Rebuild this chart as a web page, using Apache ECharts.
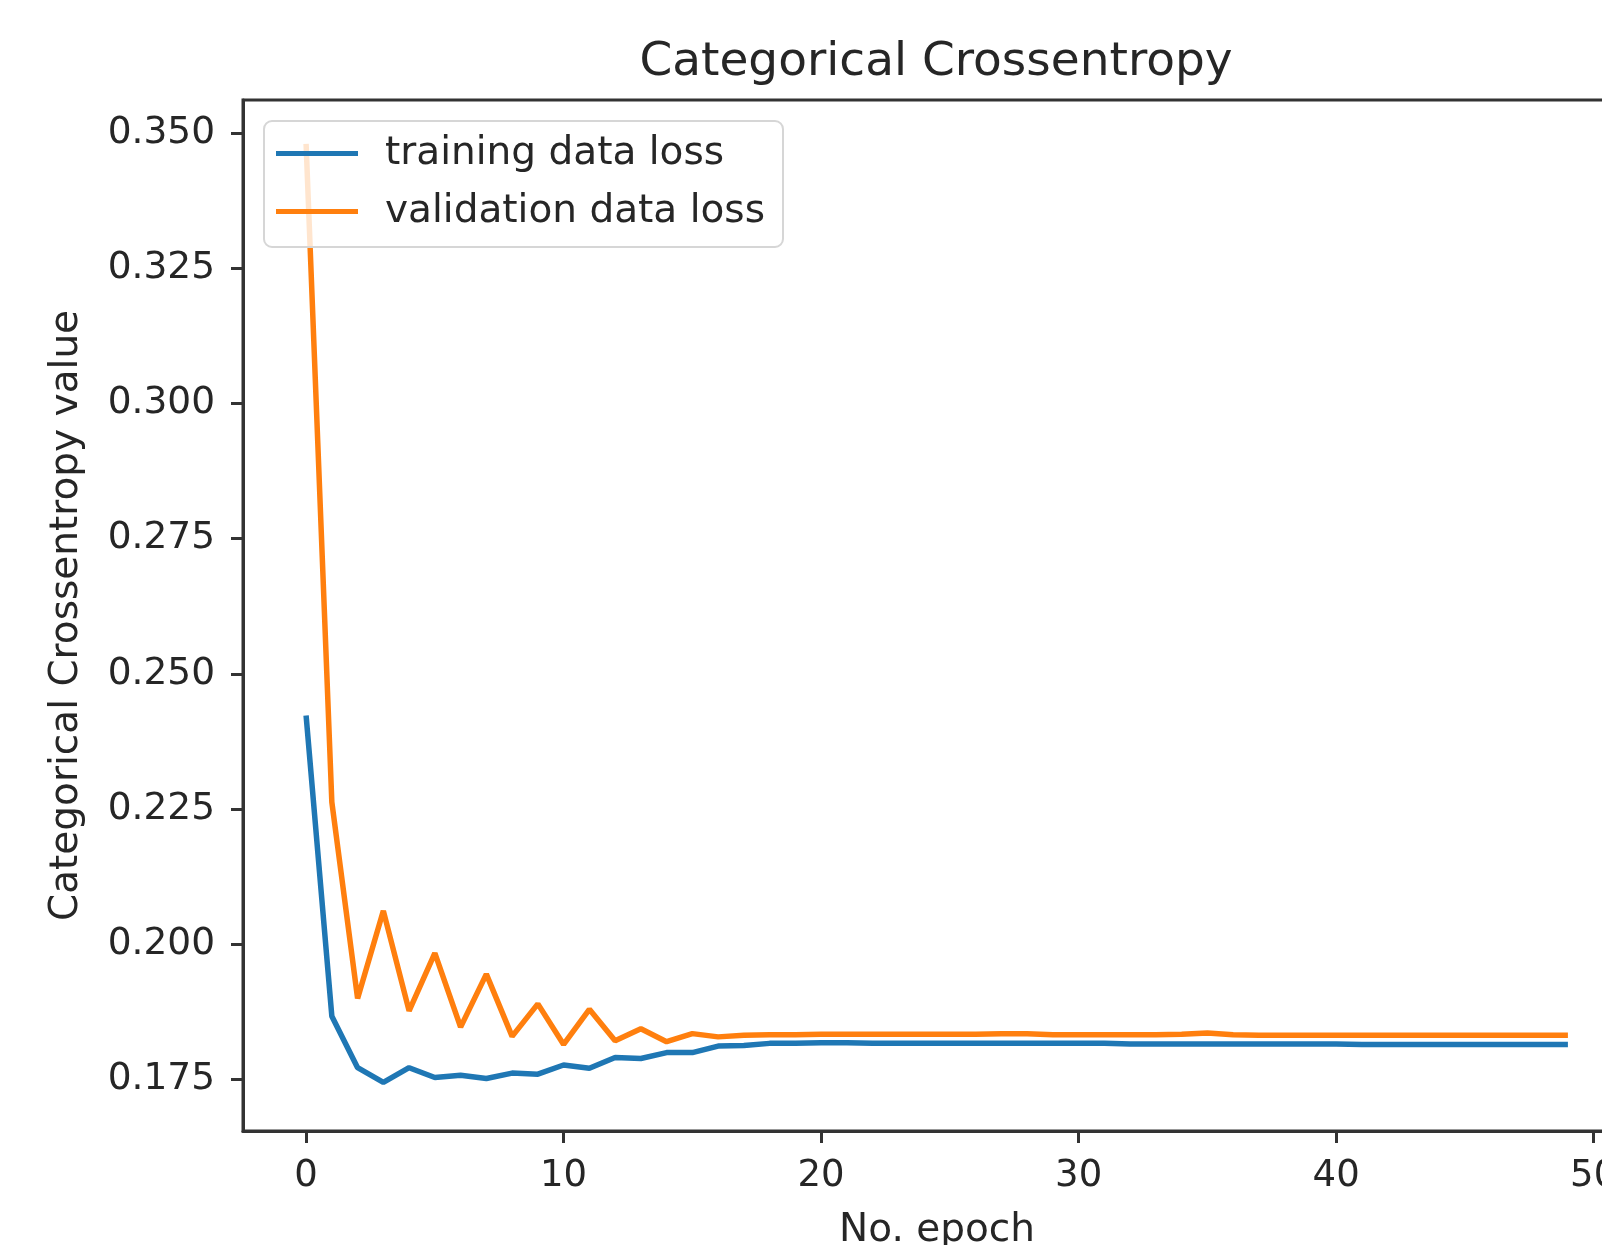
<!DOCTYPE html>
<html>
<head>
<meta charset="utf-8">
<script src="https://cdn.jsdelivr.net/npm/echarts@6/dist/echarts.min.js"></script>
<style>
  html, body { margin: 0; padding: 0; background: #fff; }
  #chart { width: 1602px; height: 1245px; }
</style>
</head>
<body>
<div id="chart"></div>
<script>
  // values, one per epoch
  const trainLoss = [
    0.2423, 0.1867, 0.1772, 0.1745, 0.1772, 0.1754, 0.1758, 0.1752, 0.1762, 0.1760,
    0.1777, 0.1771, 0.1791, 0.1789, 0.1800, 0.1800, 0.1812, 0.1813, 0.1817, 0.1817,
    0.1818, 0.1818, 0.1817, 0.1817, 0.1817, 0.1817, 0.1817, 0.1817, 0.1817, 0.1817,
    0.1817, 0.1817, 0.1816, 0.1816, 0.1816, 0.1816, 0.1816, 0.1816, 0.1816, 0.1816,
    0.1816, 0.1815, 0.1815, 0.1815, 0.1815, 0.1815, 0.1815, 0.1815, 0.1815, 0.1815
  ]
  const valLoss = [
    0.3480, 0.2263, 0.1900, 0.2062, 0.1877, 0.1984, 0.1847, 0.1945, 0.1830, 0.1890,
    0.1815, 0.1880, 0.1822, 0.1844, 0.1820, 0.1835, 0.1829, 0.1832, 0.1833, 0.1833,
    0.1834, 0.1834, 0.1834, 0.1834, 0.1834, 0.1834, 0.1834, 0.1835, 0.1835, 0.1833,
    0.1833, 0.1833, 0.1833, 0.1833, 0.1834, 0.1836, 0.1833, 0.1832, 0.1832, 0.1832,
    0.1832, 0.1832, 0.1832, 0.1832, 0.1832, 0.1832, 0.1832, 0.1832, 0.1832, 0.1832
  ]
  const xTicks = [0, 10, 20, 30, 40, 50]
  const yTicks = [0.175, 0.2, 0.225, 0.25, 0.275, 0.3, 0.325, 0.35]
  const seriesNames = ["training data loss", "validation data loss"]

  const epochs = trainLoss.map((_, i) => i)
  const font = "DejaVu Sans"
  const ink = "#262626"

  const chart = echarts.init(document.getElementById("chart"), null, { renderer: "canvas" })
  const option = {
    backgroundColor: "#fff",
    animation: false,
    title: {
      text: "Categorical Crossentropy",
      left: 931,
      textAlign: "center",
      top: 34,
      textStyle: { fontFamily: font, fontSize: 47, fontWeight: "normal", color: ink },
    },
    legend: {
      orient: "vertical",
      left: 264,
      top: 121,
      padding: [13, 18, 16, 12],
      itemWidth: 82,
      itemHeight: 5,
      itemGap: 19,
      icon: "rect",
      backgroundColor: "rgba(255,255,255,0.8)",
      borderColor: "#d6d6d6",
      borderWidth: 2,
      borderRadius: 8,
      textStyle: { fontFamily: font, fontSize: 39, color: ink, padding: [0, 0, 0, 22] },
      data: seriesNames,
    },
    grid: {
      left: 243,
      top: 100,
      width: 1388,
      height: 1031,
      show: true,
      borderColor: "#333",
      borderWidth: 3,
      outerBoundsMode: "none",
    },
    xAxis: {
      type: "value",
      min: -2.45,
      max: 51.45,
      name: "No. epoch",
      nameLocation: "middle",
      nameGap: 80,
      nameTextStyle: { fontFamily: font, fontSize: 39, color: ink },
      splitLine: { show: false },
      axisLine: { show: true, onZero: false, lineStyle: { color: "#333", width: 3 } },
      axisTick: { show: true, length: 12, lineStyle: { color: "#333", width: 3 }, customValues: xTicks },
      axisLabel: {
        customValues: xTicks,
        margin: 27,
        fontFamily: font,
        fontSize: 37,
        color: ink,
      },
    },
    yAxis: {
      type: "value",
      min: 0.1655,
      max: 0.3561,
      name: "Categorical Crossentropy value",
      nameLocation: "middle",
      nameGap: 157,
      nameRotate: 90,
      nameTextStyle: { fontFamily: font, fontSize: 39, color: ink },
      splitLine: { show: false },
      axisLine: { show: true, onZero: false, lineStyle: { color: "#333", width: 3 } },
      axisTick: { show: true, length: 12, lineStyle: { color: "#333", width: 3 }, customValues: yTicks },
      axisLabel: {
        customValues: yTicks,
        margin: 28,
        fontFamily: font,
        fontSize: 37.5,
        color: ink,
        formatter: (v) => v.toFixed(3),
      },
    },
    series: [
      {
        name: seriesNames[0],
        type: "line",
        symbol: "none",
        data: epochs.map((e) => [e, trainLoss[e]]),
        lineStyle: { color: "#1f77b4", width: 5.5 },
        itemStyle: { color: "#1f77b4" },
      },
      {
        name: seriesNames[1],
        type: "line",
        symbol: "none",
        data: epochs.map((e) => [e, valLoss[e]]),
        lineStyle: { color: "#ff7f0e", width: 5.5 },
        itemStyle: { color: "#ff7f0e" },
      },
    ],
  }
  chart.setOption(option)
</script>
</body>
</html>
